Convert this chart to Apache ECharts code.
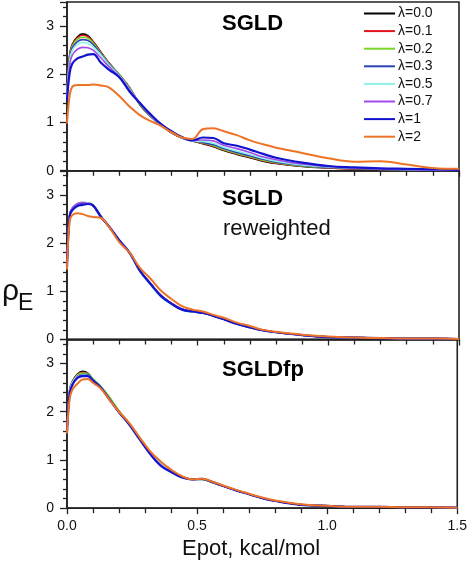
<!DOCTYPE html>
<html><head><meta charset="utf-8">
<script src="https://cdn.jsdelivr.net/npm/echarts@6/dist/echarts.min.js"></script>
<style>html,body{margin:0;padding:0;background:#fff}#c{width:470px;height:564px}</style>
</head><body><div id="c"></div>
<script>
// x grid (Epot, kcal/mol)
const X = [0, 0.01, 0.02, 0.04, 0.06, 0.08, 0.1, 0.13, 0.16, 0.2, 0.24, 0.28, 0.32, 0.36, 0.4, 0.44, 0.48, 0.52, 0.56, 0.6, 0.65, 0.7, 0.75, 0.8, 0.9, 1.0, 1.1, 1.2, 1.3, 1.4, 1.5];
const seriesNames = ['λ=0.0','λ=0.1','λ=0.2','λ=0.3','λ=0.5','λ=0.7','λ=1','λ=2'];
const seriesColors = ['#000000','#e3141b','#7ad62a','#2c45b4','#8ef0e6','#a54be8','#1212cf','#ee7326'];
const panelTitles = ['SGLD','SGLD','SGLDfp'];
const panelSubtitles = ['','reweighted',''];
const yTicks = [0, 1, 2, 3];
const xTicks = [0, 0.5, 1.0, 1.5];

// Panel 1: SGLD
const sgld_l00 = [1.60,2.40,2.62,2.78,2.84,2.80,2.68,2.46,2.24,1.99,1.72,1.36,1.13,0.94,0.79,0.68,0.62,0.56,0.50,0.42,0.34,0.27,0.20,0.15,0.09,0.06,0.04,0.03,0.02,0.01,0.01];
const sgld_l01 = [1.60,2.38,2.60,2.76,2.81,2.78,2.67,2.45,2.24,1.99,1.72,1.37,1.13,0.94,0.79,0.68,0.62,0.57,0.51,0.43,0.35,0.28,0.21,0.16,0.10,0.06,0.04,0.03,0.02,0.01,0.01];
const sgld_l02 = [1.58,2.35,2.58,2.73,2.77,2.75,2.65,2.44,2.23,1.99,1.71,1.37,1.14,0.95,0.80,0.68,0.62,0.58,0.52,0.44,0.36,0.29,0.22,0.17,0.10,0.07,0.05,0.03,0.02,0.02,0.01];
const sgld_l03 = [1.57,2.32,2.55,2.68,2.72,2.70,2.62,2.42,2.22,1.98,1.70,1.38,1.14,0.95,0.80,0.68,0.62,0.59,0.54,0.46,0.38,0.31,0.24,0.18,0.11,0.07,0.05,0.03,0.02,0.02,0.01];
const sgld_l05 = [1.55,2.28,2.50,2.62,2.66,2.64,2.57,2.40,2.20,1.97,1.69,1.39,1.15,0.95,0.80,0.68,0.62,0.61,0.57,0.49,0.41,0.34,0.26,0.20,0.12,0.08,0.06,0.04,0.03,0.02,0.01];
const sgld_l07 = [1.52,2.18,2.40,2.52,2.56,2.55,2.50,2.34,2.16,1.95,1.67,1.40,1.16,0.96,0.81,0.69,0.63,0.64,0.62,0.53,0.46,0.38,0.29,0.23,0.14,0.09,0.06,0.04,0.03,0.02,0.02];
const sgld_l1  = [1.45,2.02,2.22,2.33,2.37,2.41,2.42,2.24,2.10,1.94,1.64,1.40,1.17,0.97,0.82,0.70,0.63,0.69,0.68,0.57,0.52,0.44,0.35,0.27,0.17,0.10,0.07,0.05,0.04,0.03,0.02];
const sgld_l2  = [0.98,1.55,1.74,1.78,1.78,1.78,1.79,1.77,1.73,1.55,1.33,1.15,1.03,0.93,0.80,0.69,0.66,0.86,0.88,0.82,0.74,0.63,0.55,0.48,0.37,0.26,0.19,0.20,0.13,0.06,0.04];

// Panel 2: SGLD reweighted
const rw_l00 = [1.52,2.58,2.72,2.81,2.83,2.82,2.77,2.55,2.34,2.05,1.79,1.42,1.16,0.91,0.75,0.63,0.58,0.55,0.49,0.42,0.33,0.26,0.19,0.15,0.09,0.05,0.04,0.03,0.02,0.02,0.01];
const rw_l01 = [1.52,2.57,2.71,2.80,2.83,2.82,2.78,2.55,2.35,2.05,1.78,1.41,1.15,0.91,0.75,0.62,0.58,0.55,0.50,0.42,0.33,0.26,0.19,0.15,0.09,0.05,0.04,0.03,0.02,0.02,0.01];
const rw_l02 = [1.51,2.57,2.72,2.81,2.84,2.83,2.78,2.56,2.35,2.06,1.79,1.42,1.15,0.90,0.74,0.62,0.58,0.56,0.50,0.43,0.33,0.26,0.19,0.15,0.09,0.05,0.04,0.03,0.02,0.02,0.01];
const rw_l03 = [1.51,2.56,2.71,2.80,2.83,2.83,2.79,2.55,2.35,2.05,1.78,1.41,1.14,0.89,0.74,0.62,0.58,0.55,0.49,0.42,0.32,0.25,0.19,0.15,0.09,0.05,0.04,0.03,0.02,0.02,0.01];
const rw_l05 = [1.52,2.58,2.73,2.82,2.85,2.83,2.78,2.55,2.34,2.05,1.78,1.40,1.13,0.88,0.73,0.61,0.57,0.55,0.49,0.42,0.32,0.25,0.19,0.15,0.09,0.05,0.04,0.03,0.02,0.02,0.01];
const rw_l07 = [1.52,2.58,2.72,2.82,2.84,2.82,2.77,2.54,2.34,2.05,1.79,1.42,1.16,0.91,0.75,0.63,0.58,0.55,0.49,0.42,0.33,0.26,0.19,0.15,0.09,0.05,0.04,0.03,0.02,0.02,0.01];
const rw_l1  = [1.50,2.55,2.68,2.77,2.79,2.81,2.78,2.54,2.35,2.06,1.80,1.42,1.15,0.90,0.74,0.62,0.58,0.55,0.49,0.42,0.32,0.25,0.19,0.15,0.09,0.05,0.04,0.03,0.02,0.02,0.01];
const rw_l2  = [1.45,2.45,2.58,2.62,2.60,2.56,2.54,2.52,2.34,2.02,1.80,1.48,1.26,1.01,0.84,0.69,0.62,0.58,0.51,0.45,0.35,0.28,0.20,0.16,0.10,0.06,0.04,0.03,0.02,0.02,0.01];

// Panel 3: SGLDfp
const fp_l00 = [1.60,2.45,2.62,2.78,2.84,2.80,2.66,2.50,2.28,2.00,1.75,1.45,1.16,0.93,0.78,0.66,0.60,0.60,0.54,0.46,0.37,0.29,0.21,0.15,0.07,0.05,0.03,0.03,0.02,0.02,0.01];
const fp_l01 = [1.60,2.43,2.61,2.77,2.82,2.79,2.66,2.50,2.29,2.00,1.75,1.45,1.16,0.94,0.78,0.66,0.60,0.60,0.54,0.46,0.37,0.29,0.21,0.15,0.07,0.05,0.03,0.03,0.02,0.02,0.01];
const fp_l02 = [1.59,2.42,2.60,2.76,2.80,2.79,2.68,2.53,2.33,2.02,1.76,1.46,1.17,0.94,0.79,0.66,0.60,0.59,0.53,0.46,0.37,0.29,0.21,0.15,0.07,0.05,0.03,0.03,0.02,0.02,0.01];
const fp_l03 = [1.58,2.40,2.58,2.73,2.77,2.77,2.66,2.51,2.29,2.00,1.74,1.44,1.15,0.92,0.77,0.65,0.59,0.60,0.54,0.46,0.37,0.29,0.21,0.15,0.07,0.05,0.03,0.03,0.02,0.02,0.01];
const fp_l05 = [1.58,2.42,2.60,2.73,2.76,2.75,2.64,2.50,2.28,1.99,1.74,1.44,1.15,0.93,0.78,0.65,0.59,0.60,0.54,0.46,0.37,0.29,0.21,0.15,0.07,0.05,0.03,0.03,0.02,0.02,0.01];
const fp_l07 = [1.57,2.38,2.56,2.72,2.75,2.74,2.64,2.49,2.27,1.99,1.73,1.43,1.13,0.90,0.76,0.64,0.59,0.60,0.54,0.46,0.37,0.29,0.21,0.15,0.07,0.05,0.03,0.03,0.02,0.02,0.01];
const fp_l1  = [1.56,2.36,2.55,2.70,2.74,2.74,2.64,2.50,2.28,1.99,1.73,1.42,1.12,0.88,0.75,0.64,0.60,0.61,0.54,0.46,0.37,0.29,0.21,0.15,0.07,0.05,0.03,0.03,0.02,0.02,0.01];
const fp_l2  = [1.55,2.25,2.45,2.58,2.67,2.68,2.60,2.48,2.27,2.00,1.76,1.46,1.18,0.97,0.80,0.67,0.60,0.61,0.55,0.47,0.38,0.30,0.22,0.16,0.08,0.05,0.03,0.03,0.02,0.02,0.01];

const panels = [
  [sgld_l00, sgld_l01, sgld_l02, sgld_l03, sgld_l05, sgld_l07, sgld_l1, sgld_l2],
  [rw_l00, rw_l01, rw_l02, rw_l03, rw_l05, rw_l07, rw_l1, rw_l2],
  [fp_l00, fp_l01, fp_l02, fp_l03, fp_l05, fp_l07, fp_l1, fp_l2]
];

const FONT = 'Liberation Sans, Arial, Helvetica, sans-serif';
const AX = '#222';
const panelTop = [2, 170.7, 339.4];
const panelH = 168.8;

const grids = [], xAxes = [], yAxes = [], series = [];
panels.forEach((panel, p) => {
  grids.push({left: 67, right: 11, top: panelTop[p], height: panelH, show: true,
    borderColor: AX, borderWidth: 1.6, backgroundColor: 'transparent'});
  const last = p === panels.length - 1;
  xAxes.push({type: 'value', gridIndex: p, min: xTicks[0], max: xTicks[xTicks.length-1], interval: 0.5,
    axisLine: {lineStyle: {color: AX, width: 1.6}},
    axisTick: {show: true, inside: false, length: 6, lineStyle: {color: AX, width: 1.3}},
    minorTick: {show: true, splitNumber: 5, length: 5, lineStyle: {color: AX, width: 1.3}},
    splitLine: {show: false},
    axisLabel: {show: last, margin: 11, fontSize: 14, color: '#111', fontFamily: FONT,
      formatter: v => v.toFixed(1)},
    name: last ? 'Epot, kcal/mol' : '', nameLocation: 'middle', nameGap: 30,
    nameTextStyle: {fontSize: 22, color: '#111', fontFamily: FONT, padding: [0, 22, 0, 0]}
  });
  yAxes.push({type: 'value', gridIndex: p, min: 0, max: 3.5, interval: 1,
    axisLine: {show: true, lineStyle: {color: AX, width: 1.6}},
    axisTick: {show: true, inside: false, length: 7, lineStyle: {color: AX, width: 1.3}},
    minorTick: {show: true, splitNumber: 5, length: 4, lineStyle: {color: AX, width: 1.3}},
    splitLine: {show: false},
    axisLabel: {margin: 13, fontSize: 14, color: '#111', fontFamily: FONT, showMaxLabel: false,
      formatter: v => (yTicks.indexOf(v) >= 0 ? String(v) : '')}
  });
  panel.forEach((vals, i) => {
    const wide = i === 6 ? 2.2 : (i === 7 ? 2 : 1.6);
    series.push({name: seriesNames[i], type: 'line', xAxisIndex: p, yAxisIndex: p,
      data: X.map((x, k) => [x, vals[k]]), showSymbol: false, smooth: 0.4,
      lineStyle: {color: seriesColors[i], width: wide}, itemStyle: {color: seriesColors[i]},
      emphasis: {disabled: true}, z: 2 + i});
  });
});

const graphics = [];
panelTitles.forEach((t, p) => {
  const cy = [23.5, 199, 369.5][p];
  graphics.push({type: 'text', x: 222, y: cy, style: {text: t, font: 'bold 22px ' + FONT, fill: '#000', textVerticalAlign: 'middle'}});
  if (panelSubtitles[p]) graphics.push({type: 'text', x: 223, y: cy + 30, style: {text: panelSubtitles[p], font: '22px ' + FONT, fill: '#111', textVerticalAlign: 'middle'}});
});
graphics.push({type: 'text', x: 2, y: 277, style: {text: 'ρ', font: '30px ' + FONT, fill: '#111', textVerticalAlign: 'alphabetic'}});
graphics.push({type: 'text', x: 18, y: 292, style: {text: 'E', font: '23px ' + FONT, fill: '#111', textVerticalAlign: 'alphabetic'}});

const chart = echarts.init(document.getElementById('c'), null, {renderer: 'canvas'});
chart.setOption({
  animation: false,
  backgroundColor: '#fff',
  grid: grids, xAxis: xAxes, yAxis: yAxes, series: series,
  legend: {data: seriesNames, orient: 'vertical', left: 364, top: 6, padding: 0,
    itemWidth: 31, itemHeight: 2, itemGap: 2.6, icon: 'rect',
    textStyle: {fontSize: 14, lineHeight: 15, color: '#111', fontFamily: FONT, padding: [0, 0, 0, -2]},
    selectedMode: false},
  graphic: graphics
});
</script></body></html>
